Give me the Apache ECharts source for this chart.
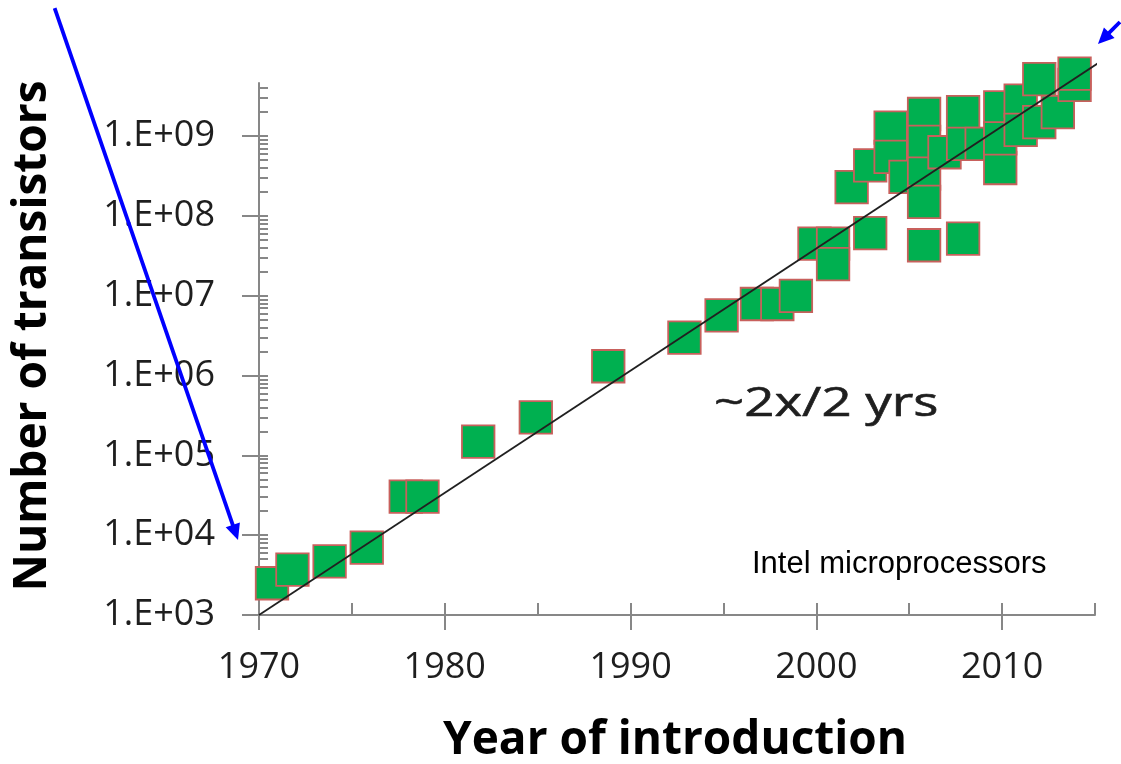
<!DOCTYPE html>
<html><head><meta charset="utf-8">
<script src="https://cdn.jsdelivr.net/npm/echarts@6/dist/echarts.min.js"></script>
<style>html,body{margin:0;padding:0;background:#fff}#chart{width:1121px;height:764px}</style>
</head><body><div id="chart"></div>
<script>
// ---- data ----
const years = [1970.7, 1971.8, 1973.8, 1975.8, 1977.9, 1978.8, 1981.8, 1984.9, 1988.8, 1992.9,
  1994.9, 1996.8, 1997.9, 1998.9, 1999.9, 2000.9, 2000.9, 2001.9, 2002.9, 2002.9,
  2004.0, 2004.0, 2004.8, 2005.8, 2005.8, 2005.8, 2005.8, 2005.8, 2006.9, 2007.9,
  2007.9, 2007.9, 2008.9, 2009.9, 2009.9, 2009.9, 2011.0, 2011.0, 2012.0, 2012.0,
  2013.0, 2013.9, 2013.9];
const transistors = [2500, 3700, 4700, 7000, 30500, 30500, 1.49e5, 3.0e5, 1.31e6, 3.0e6,
  5.7e6, 7.9e6, 7.9e6, 1.0e7, 4.5e7, 4.5e7, 2.5e7, 2.3e8, 6.1e7, 4.3e8,
  1.28e9, 5.5e8, 3.1e8, 1.9e9, 8.5e8, 3.4e8, 1.5e8, 4.3e7, 6.3e8, 2.0e9,
  8.0e8, 5.2e7, 8.0e8, 4.0e8, 2.3e9, 9.4e8, 2.8e9, 1.2e9, 1.5e9, 5.2e9,
  2.0e9, 4.4e9, 6.1e9];
const trendYears = [1970, 2015.2];
const trendCounts = [1e3, 8.34e9];
const xTickYears = [1970, 1980, 1990, 2000, 2010];
const xTickLabels = ['1970', '1980', '1990', '2000', '2010'];
const xMinorYears = [1970, 1975, 1980, 1985, 1990, 1995, 2000, 2005, 2010, 2015];
const yTickExponents = [3, 4, 5, 6, 7, 8, 9];
const yTickLabels = ['1.E+03', '1.E+04', '1.E+05', '1.E+06', '1.E+07', '1.E+08', '1.E+09'];
const arrowA = { from: [1959.0, 4.04e10], to: [1968.87, 8.7e3] };
const arrowB = { from: [2016.34, 2.7e10], to: [2015.16, 1.43e10] };

// ---- chart ----
const LOG_MIN = 3, LOG_MAX = 9.667;
const axisGray = '#878787';
const chart = echarts.init(document.getElementById('chart'), null, { renderer: 'canvas' });
const scatterData = years.map((y, i) => [y, Math.log10(transistors[i])]);
const trendData = trendYears.map((y, i) => [y, Math.log10(trendCounts[i])]);
const yMinor = [];
for (let e = 3; e <= 9; e++) for (let k = 1; k <= 9; k++) {
  const v = e + Math.log10(k);
  if (v <= LOG_MAX) yMinor.push(v);
}
const labelFont = { fontFamily: 'Open Sans', fontSize: 36, color: '#1e1e1e' };

chart.setOption({
  animation: false,
  grid: { left: 259, right: 26, top: 83, bottom: 149 },
  xAxis: [
    { type: 'value', min: 1970, max: 2015, interval: 5,
      axisLine: { show: true, lineStyle: { color: axisGray, width: 2 } },
      axisTick: { show: true, inside: false, length: 15, customValues: xTickYears, lineStyle: { color: axisGray, width: 2 } },
      axisLabel: Object.assign({ customValues: xTickYears, margin: 35,
        formatter: v => xTickLabels[xTickYears.indexOf(v)] || '' }, labelFont),
      splitLine: { show: false } },
    { type: 'value', min: 1970, max: 2015, interval: 5, position: 'bottom',
      axisLine: { show: false },
      axisTick: { show: true, inside: true, length: 12, customValues: xMinorYears, lineStyle: { color: axisGray, width: 2 } },
      axisLabel: { show: false }, splitLine: { show: false } }
  ],
  yAxis: [
    { type: 'value', min: LOG_MIN, max: LOG_MAX, interval: 1,
      axisLine: { show: true, lineStyle: { color: axisGray, width: 2 } },
      axisTick: { show: true, inside: false, length: 17, customValues: yTickExponents, lineStyle: { color: axisGray, width: 2 } },
      axisLabel: Object.assign({ customValues: yTickExponents, margin: 44,
        formatter: v => yTickLabels[yTickExponents.indexOf(v)] || '' }, labelFont),
      splitLine: { show: false } },
    { type: 'value', min: LOG_MIN, max: LOG_MAX, interval: 1, position: 'left',
      axisLine: { show: false },
      axisTick: { show: true, inside: true, length: 9, customValues: yMinor, lineStyle: { color: axisGray, width: 2 } },
      axisLabel: { show: false }, splitLine: { show: false } }
  ],
  series: [
    { type: 'scatter', xAxisIndex: 0, yAxisIndex: 0, data: scatterData, clip: false,
      symbol: 'rect', symbolSize: 32.5, z: 2,
      itemStyle: { color: '#00B050', borderColor: '#C8605C', borderWidth: 1.8, opacity: 1 } },
    { type: 'line', xAxisIndex: 0, yAxisIndex: 0, data: trendData, clip: false, symbol: 'none', z: 3,
      lineStyle: { color: '#202020', width: 1.8 }, silent: true }
  ]
});

function arrowGraphic(a) {
  const p0 = chart.convertToPixel({ xAxisIndex: 0, yAxisIndex: 0 }, [a.from[0], Math.log10(a.from[1])]);
  const p1 = chart.convertToPixel({ xAxisIndex: 0, yAxisIndex: 0 }, [a.to[0], Math.log10(a.to[1])]);
  const dx = p1[0] - p0[0], dy = p1[1] - p0[1];
  const L = Math.sqrt(dx * dx + dy * dy), ux = dx / L, uy = dy / L;
  const hl = 16, hw = 7.5;
  const bx = p1[0] - ux * hl, by = p1[1] - uy * hl;
  return [
    { type: 'line', shape: { x1: p0[0], y1: p0[1], x2: bx + ux * 2, y2: by + uy * 2 },
      style: { stroke: '#0000FF', lineWidth: 3.8 }, z: 10 },
    { type: 'polygon', shape: { points: [[p1[0], p1[1]], [bx - uy * hw, by + ux * hw], [bx + uy * hw, by - ux * hw]] },
      style: { fill: '#0000FF' }, z: 10 }
  ];
}

chart.setOption({
  graphic: [
    ...arrowGraphic(arrowA), ...arrowGraphic(arrowB),
    { type: 'text', x: 33, y: 336, rotation: Math.PI / 2,
      style: { text: 'Number of transistors', font: 'bold 46px "Open Sans"', fill: '#000', align: 'center', verticalAlign: 'middle' } },
    { type: 'text', x: 675, y: 741,
      style: { text: 'Year of introduction', font: 'bold 46px "Open Sans"', fill: '#000', align: 'center', verticalAlign: 'middle' } },
    { type: 'text', x: 714, y: 405, scaleX: 1.32,
      style: { text: '~2x/2 yrs', font: '40px "Open Sans"', fill: '#1e1e1e', align: 'left', verticalAlign: 'middle',
        stroke: '#1e1e1e', lineWidth: 0.6 } },
    { type: 'text', x: 752, y: 564,
      style: { text: 'Intel microprocessors', font: '31px "Liberation Sans"', fill: '#000', align: 'left', verticalAlign: 'middle' } }
  ]
});
</script></body></html>
